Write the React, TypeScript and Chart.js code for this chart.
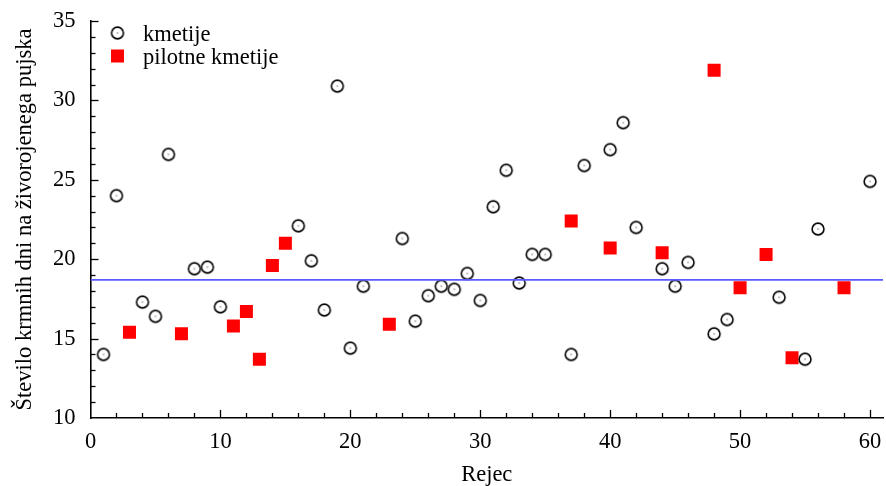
import React, { useEffect, useRef } from "react";
import { Chart, registerables } from "chart.js";

Chart.register(...registerables);

const kmetijeX = [1, 2, 4, 5, 6, 8, 9, 10, 16, 17, 18, 19, 20, 21, 24, 25, 26, 27, 28, 29, 30, 31, 32, 33, 34, 35, 37, 38, 40, 41, 42, 44, 45, 46, 48, 49, 53, 55, 56, 60];
const kmetijeY = [14.0, 24.0, 17.3, 16.4, 26.6, 19.4, 19.5, 17.0, 22.1, 19.9, 16.8, 30.9, 14.4, 18.3, 21.3, 16.1, 17.7, 18.3, 18.1, 19.1, 17.4, 23.3, 25.6, 18.5, 20.3, 20.3, 14.0, 25.9, 26.9, 28.6, 22.0, 19.4, 18.3, 19.8, 15.3, 16.2, 17.6, 13.7, 21.9, 24.9];

const pilotneX = [3, 7, 11, 12, 13, 14, 15, 23, 37, 40, 44, 48, 50, 52, 54, 58];
const pilotneY = [15.4, 15.3, 15.8, 16.7, 13.7, 19.6, 21.0, 15.9, 22.4, 20.7, 20.4, 31.9, 18.2, 20.3, 13.8, 18.2];

const meanValue = 18.7;
const xRange = [0, 61];
const yRange = [10, 35];

const legendLabels = ["kmetije", "pilotne kmetije"];
const xTitle = "Rejec";
const yTitle = "Število krmnih dni na živorojenega pujska";

const FONT = "'Liberation Serif', 'Times New Roman', serif";

function makeCircleMarker(): HTMLCanvasElement {
  const c = document.createElement("canvas");
  c.width = 16;
  c.height = 16;
  const ctx = c.getContext("2d")!;
  ctx.strokeStyle = "#000";
  ctx.lineWidth = 1.6;
  ctx.beginPath();
  ctx.arc(8, 8, 5.9, 0, Math.PI * 2);
  ctx.stroke();
  ctx.fillStyle = "#111";
  ctx.fillRect(7.5, 7.5, 1, 1);
  return c;
}

export default function App() {
  const ref = useRef<HTMLCanvasElement>(null);

  useEffect(() => {
    const canvas = ref.current!;
    const circle = makeCircleMarker();

    const tickPlugin = {
      id: "innerTicks",
      afterDraw(chart: any) {
        const ctx = chart.ctx;
        const xs = chart.scales.x;
        const ys = chart.scales.y;
        const area = chart.chartArea;
        ctx.save();
        ctx.strokeStyle = "#000";
        ctx.lineWidth = 1.3;
        for (let v = yRange[0] + 1; v <= yRange[1]; v += 1) {
          const y = Math.round(ys.getPixelForValue(v)) + 0.5;
          const len = v % 5 === 0 ? 8 : 5;
          ctx.beginPath();
          ctx.moveTo(area.left, y);
          ctx.lineTo(area.left + len, y);
          ctx.stroke();
        }
        for (let v = 2; v <= xRange[1]; v += 2) {
          const x = Math.round(xs.getPixelForValue(v)) + 0.5;
          const len = v % 10 === 0 ? 8 : 5;
          ctx.beginPath();
          ctx.moveTo(x, area.bottom);
          ctx.lineTo(x, area.bottom - len);
          ctx.stroke();
        }
        // legend
        const lx = area.left + 27;
        ctx.drawImage(circle, lx - 8, 33 - 8);
        ctx.fillStyle = "#ff0000";
        ctx.fillRect(lx - 6.5, 56 - 6.5, 13, 13);
        ctx.fillStyle = "#000";
        ctx.font = `22.5px ${FONT}`;
        ctx.textBaseline = "alphabetic";
        ctx.textAlign = "left";
        ctx.fillText(legendLabels[0], 143, 40.5);
        ctx.fillText(legendLabels[1], 143, 63.5);
        ctx.restore();
      },
    };

    const chart = new Chart(canvas, {
      type: "scatter",
      data: {
        datasets: [
          {
            type: "line",
            label: "mean",
            data: [
              { x: xRange[0], y: meanValue },
              { x: xRange[1], y: meanValue },
            ],
            borderColor: "#5a5aff",
            borderWidth: 1.8,
            pointRadius: 0,
            fill: false,
          },
          {
            label: legendLabels[0],
            data: kmetijeX.map((x, i) => ({ x, y: kmetijeY[i] })),
            pointStyle: circle as any,
            pointRadius: 7,
          },
          {
            label: legendLabels[1],
            data: pilotneX.map((x, i) => ({ x, y: pilotneY[i] })),
            pointStyle: "rect",
            pointRadius: 9.2,
            backgroundColor: "#ff0000",
            borderWidth: 0,
          },
        ],
      },
      options: {
        animation: false,
        responsive: false,
        maintainAspectRatio: false,
        layout: { autoPadding: false, padding: { top: 21, right: 3, left: 0, bottom: 0 } },
        plugins: { legend: { display: false }, tooltip: { enabled: false } },
        scales: {
          x: {
            type: "linear",
            min: xRange[0],
            max: xRange[1],
            afterBuildTicks: (s: any) => {
              s.ticks = s.ticks.filter((t: any) => t.value % 10 === 0);
            },
            afterFit: (s: any) => {
              s.height = 68;
              s.paddingLeft = 0;
              s.paddingRight = 0;
            },
            ticks: {
              stepSize: 10,
              includeBounds: false,
              autoSkip: false,
              color: "#000",
              font: { family: FONT, size: 22.5 },
              padding: 11,
              maxRotation: 0,
            },
            grid: { display: false, drawTicks: false },
            border: { display: true, color: "#000", width: 1.6 },
            title: {
              display: true,
              text: xTitle,
              color: "#000",
              font: { family: FONT, size: 22.5, lineHeight: 1 },
              padding: 0,
            },
          },
          y: {
            type: "linear",
            min: yRange[0],
            max: yRange[1],
            afterFit: (s: any) => {
              s.width = 90.5;
              s.paddingTop = 0;
              s.paddingBottom = 0;
            },
            ticks: {
              stepSize: 5,
              color: "#000",
              font: { family: FONT, size: 22.5 },
              padding: 15,
            },
            grid: { display: false, drawTicks: false },
            border: { display: true, color: "#000", width: 1.6 },
            title: {
              display: true,
              text: yTitle,
              color: "#000",
              font: { family: FONT, size: 22.5 },
              padding: 12,
            },
          },
        },
      },
      plugins: [tickPlugin],
    });
    return () => chart.destroy();
  }, []);

  return (
    <div style={{ position: "fixed", left: 0, top: 0, width: 886, height: 486, background: "#fff" }}>
      <canvas ref={ref} width={886} height={486} style={{ width: 886, height: 486 }} />
    </div>
  );
}
